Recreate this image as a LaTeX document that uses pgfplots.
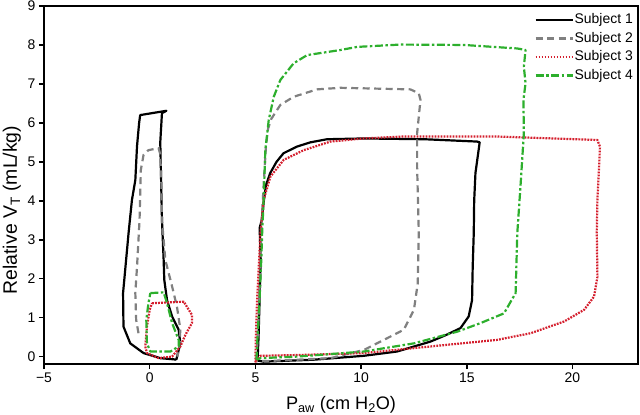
\documentclass[border=0pt]{standalone}
\usepackage{pgfplots}
\pgfplotsset{compat=1.18}
\usepackage{fontspec}
\setmainfont{Liberation Sans}
\definecolor{sgray}{RGB}{128,128,128}
\definecolor{sred}{RGB}{212,30,45}
\definecolor{sgreen}{RGB}{45,175,45}
\begin{document}
\begin{tikzpicture}
\begin{axis}[
  scale only axis, width=594bp, height=358bp,
  xmin=-5, xmax=23.1, ymin=-0.19, ymax=9,
  axis line style={line width=2bp},
  tick style={line width=1.6bp, black},
  tick align=outside, major tick length=5bp,
  xtick pos=bottom, ytick pos=left,
  xtick={-5,0,5,10,15,20}, xticklabels={−5,0,5,10,15,20},
  ytick={0,1,2,3,4,5,6,7,8,9},
  /pgf/number format/assume math mode=true,
  ticklabel style={font=\fontsize{14}{16}\selectfont},
  xlabel={P\textsubscript{aw} (cm H\textsubscript{2}O)},
  ylabel={Relative V\textsubscript{T} (mL/kg)},
  xlabel style={font=\fontsize{18.2}{20}\selectfont, at={(axis description cs:0.5,-0.128)}, anchor=base},
  ylabel style={font=\fontsize{19.5}{21}\selectfont, at={(axis description cs:-0.0455,0.43)}, anchor=base},
  legend style={draw=none, fill=none, at={(rel axis cs:0.995,0.99)}, anchor=north east,
     font=\fontsize{14}{16}\selectfont, row sep=0pt, inner sep=1bp,
     nodes={inner xsep=1bp, inner ysep=2bp, text height=11bp, text depth=3.5bp}},
  legend cell align=left,
  legend image code/.code={\draw[#1] (0bp,0bp) -- (37bp,0bp);},
  every axis plot/.append style={line width=2.2bp, line join=round},
  clip=false,
]
\coordinate (SW) at (rel axis cs:0,0);
% Subject 1
\addplot[black, solid] coordinates {
(5.10,-0.10) (5.15,0.5) (5.20,1.5) (5.25,2.5) (5.20,3.3) (5.30,3.5) (5.40,4.0) (5.50,4.4) (5.70,4.71) (6.00,5.00) (6.33,5.22) (6.96,5.39) (7.60,5.50) (8.39,5.58) (10.12,5.60) (13.0,5.58) (15.49,5.52) (15.61,5.50) (15.41,4.71) (15.35,4.0) (15.33,3.17) (15.28,2.3) (15.25,1.45) (15.09,1.03) (14.70,0.73) (14.0,0.55) (13.28,0.385) (11.70,0.13) (10.12,0.02) (7.75,-0.08) (5.38,-0.13) (5.10,-0.10)
};
\addlegendentry{Subject 1}
\addplot[sgray, dash pattern=on 7bp off 4.5bp] coordinates {
(5.05,-0.10) (5.15,1.0) (5.25,2.5) (5.30,3.5) (5.40,4.5) (5.50,5.4) (5.60,5.85) (5.75,6.10) (6.18,6.46) (6.81,6.67) (7.92,6.86) (9.02,6.90) (12.33,6.86) (12.73,6.76) (12.81,6.59) (12.65,5.73) (12.65,4.88) (12.73,3.17) (12.68,1.88) (12.50,1.20) (12.02,0.69) (11.08,0.43) (10.13,0.17) (8.55,-0.04) (6.18,-0.10) (5.08,-0.12)
};
\addlegendentry{Subject 2}
\addplot[sred, dash pattern=on 1.8bp off 1.2bp] coordinates {
(5.00,-0.15) (5.02,0.5) (5.08,1.45) (5.24,3.17) (5.39,4.02) (5.71,4.62) (6.34,5.05) (7.29,5.30) (8.55,5.52) (10.13,5.60) (12.02,5.65) (16.44,5.65) (21.18,5.56) (21.30,5.39) (21.26,4.88) (21.18,4.02) (21.15,3.17) (21.18,2.05) (21.02,1.54) (20.55,1.20) (19.60,0.90) (18.02,0.60) (16.44,0.43) (13.28,0.26) (10.13,0.09) (6.97,0.04) (5.24,0.02) (5.10,-0.05) (5.00,-0.15)
};
\addlegendentry{Subject 3}
\addplot[sgreen, dash pattern=on 8bp off 2.5bp on 2.5bp off 2.5bp] coordinates {
(5.05,-0.08) (5.10,0.5) (5.20,1.5) (5.28,2.5) (5.32,3.17) (5.39,4.02) (5.47,5.30) (5.63,6.07) (5.87,6.67) (6.18,7.10) (6.81,7.53) (7.45,7.74) (9.02,7.87) (9.81,7.95) (11.86,8.01) (14.86,8.00) (17.39,7.91) (17.78,7.87) (17.70,7.44) (17.78,7.02) (17.68,6.59) (17.70,5.73) (17.55,4.45) (17.39,3.17) (17.31,1.63) (16.76,1.11) (15.65,0.86) (14.55,0.64) (12.50,0.34) (10.13,0.13) (6.97,0.00) (5.24,-0.04) (5.05,-0.08)
};
\addlegendentry{Subject 4}
% small loops
\addplot[black, solid, forget plot] coordinates {
(1.26,-0.08) (1.45,0.34) (1.37,0.69) (1.06,1.03) (0.82,1.45) (0.69,1.97) (0.66,2.48) (0.58,3.51) (0.53,4.79) (0.50,5.5) (0.58,6.25) (0.79,6.31) (-0.45,6.20) (-0.50,6.0) (-0.53,5.82) (-0.60,5.4) (-0.68,4.53) (-0.84,4.02) (-1.00,3.17) (-1.16,2.22) (-1.26,1.63) (-1.24,0.77) (-0.92,0.34) (-0.29,0.09) (0.50,-0.04) (1.13,-0.07) (1.26,-0.08)
};
\addplot[sgray, dash pattern=on 7bp off 4.5bp, forget plot] coordinates {
(-0.53,0.60) (-0.64,0.94) (-0.68,1.63) (-0.60,2.30) (-0.48,3.51) (-0.42,4.79) (-0.29,5.18) (-0.06,5.30) (0.42,5.35) (0.50,5.20) (0.55,4.50) (0.58,3.51) (0.74,2.48) (1.06,1.80) (1.29,1.28) (1.45,0.70) (1.40,0.20) (1.30,0.00)
};
\addplot[sred, dash pattern=on 1.8bp off 1.2bp, forget plot] coordinates {
(0.11,1.37) (1.61,1.41) (2.00,1.07) (2.00,0.86) (1.69,0.56) (1.45,0.26) (1.06,0.00) (0.42,-0.04) (-0.13,0.09) (-0.21,0.26) (-0.13,0.77) (0.00,1.20) (0.11,1.37)
};
\addplot[sgreen, dash pattern=on 8bp off 2.5bp on 2.5bp off 2.5bp, forget plot] coordinates {
(0.03,1.63) (0.66,1.65) (0.82,1.37) (1.06,0.86) (1.37,0.43) (1.37,0.26) (0.98,0.13) (0.03,0.13) (-0.13,0.34) (-0.16,0.94) (-0.06,1.37) (0.03,1.63)
};
\end{axis}
\pgfresetboundingbox
\path[use as bounding box] ([shift={(-44bp,-51bp)}]SW) rectangle ([shift={(596bp,364bp)}]SW);
\end{tikzpicture}
\end{document}
